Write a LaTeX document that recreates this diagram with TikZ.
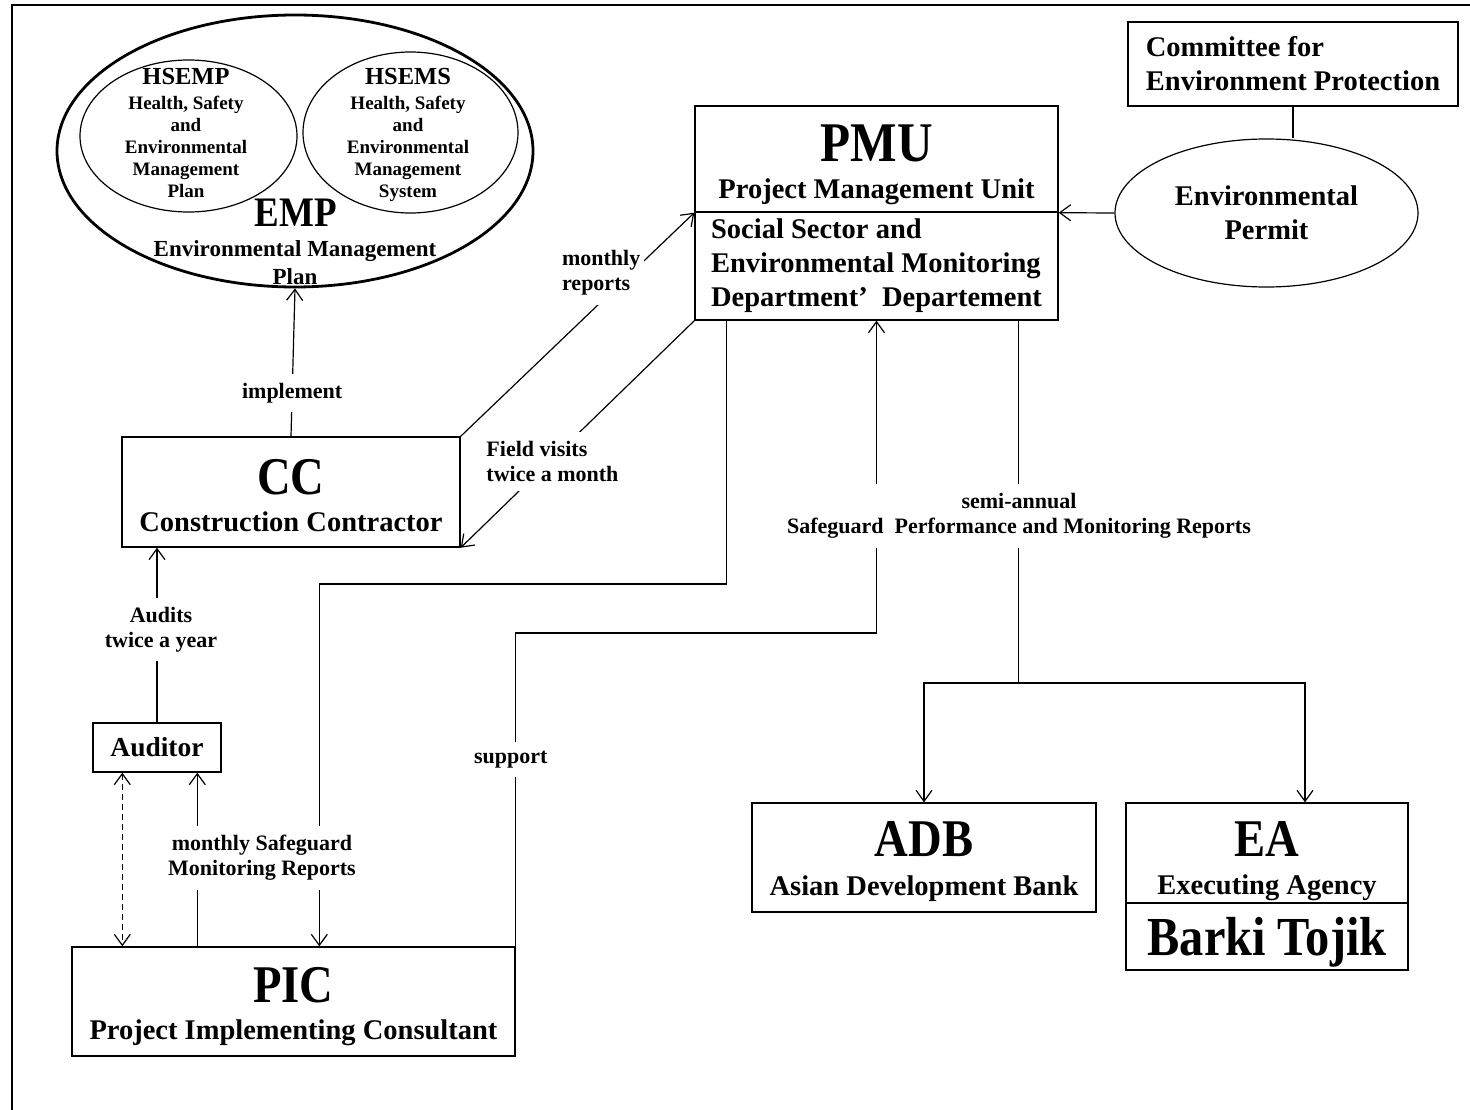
\documentclass[tikz,border=0pt]{standalone}
\usepackage{fontspec}
\setmainfont{Liberation Serif}
\newfontfamily\titlefam{Liberation Serif}[FakeStretch=0.88]
\usetikzlibrary{arrows.meta,shapes.geometric}

\newcommand{\fstitle}{\titlefam\fontsize{53}{56}\selectfont}
\newcommand{\fsbody}{\fontsize{28.5}{34}\selectfont}
\newcommand{\fslabel}{\fontsize{22}{25}\selectfont}
\newcommand{\fsinner}{\fontsize{19}{22}\selectfont}

\begin{document}
\begin{tikzpicture}[x=1pt, y=-1pt, >={Straight Barb[length=11pt,width=16pt]},
    box/.style={draw, line width=1.4pt, inner sep=0pt},
    oval/.style={draw, ellipse, line width=1.2pt, inner sep=0pt},
    title/.style={font=\fstitle\bfseries, inner sep=0pt, anchor=base},
    sub/.style={font=\bfseries\fsbody, inner sep=0pt, anchor=base},
    lbl/.style={font=\bfseries\fslabel, fill=white, align=center, inner xsep=4pt, inner ysep=9pt},
    inner/.style={font=\bfseries\fsinner, align=center, inner sep=0pt},
    conn/.style={line width=1.2pt}]
                        \useasboundingbox (0,0) rectangle (1470,1110);
                        \draw[line width=2.5pt] (12,1110) -- (12,5) -- (1470,5);

                        \node (emp) [oval, line width=2.8pt, minimum width=476pt, minimum height=272pt] at (295,151) {};
                        \node (hsemp) [oval, minimum width=217pt, minimum height=152pt] at (188.5,136) {};
                        \node (hsems) [oval, minimum width=215pt, minimum height=161pt] at (410.5,132.5) {};
                        \node (hsemptitle) [font=\bfseries\fontsize{24.5}{27}\selectfont, inner sep=0pt, anchor=base] at (186,85) {HSEMP};
                        \node (hsemptext) [inner] at (186,147) {Health, Safety\\and\\Environmental\\Management\\Plan};
                        \node (hsemstitle) [font=\bfseries\fontsize{24.5}{27}\selectfont, inner sep=0pt, anchor=base] at (408,85) {HSEMS};
                        \node (hsemstext) [inner] at (408,149) {Health, Safety\\and\\Environmental\\Management\\System};
                        \node (emptitle) [font=\titlefam\bfseries\fontsize{42}{45}\selectfont, inner sep=0pt, anchor=base] at (296,226) {EMP};
                        \node (empsub) [font=\bfseries\fontsize{23}{28}\selectfont, align=center, inner sep=0pt] at (295,263) {Environmental Management\\Plan};

                        \node (pmuhead) [box, minimum width=363pt, minimum height=106pt] at (876.5,159) {};
                        \node (pmudept) [box, minimum width=363pt, minimum height=108pt, below of=pmuhead, node distance=107pt, font=\bfseries\fsbody, align=left] {Social Sector and\\Environmental Monitoring\\Department'\ \ Departement};
                        \node (pmutitle) [title, font=\titlefam\bfseries\fontsize{56}{60}\selectfont] at ([yshift=-56pt]pmuhead.north) {PMU};
                        \node (pmusub) [sub] at ([yshift=-93pt]pmuhead.north) {Project Management Unit};

                        \node (committee) [box, minimum width=330pt, minimum height=84pt, font=\bfseries\fsbody, align=left] at (1293,64) {Committee for\\Environment Protection};
                        \node (permit) [oval, minimum width=303pt, minimum height=148pt, font=\bfseries\fsbody, align=center] at (1266.5,213) {Environmental\\Permit};

                        \node (cc) [box, minimum width=338pt, minimum height=110pt] at (291,492) {};
                        \node (cctitle) [title] at ([yshift=-58pt]cc.north) {CC};
                        \node (ccsub) [sub] at ([yshift=-95pt]cc.north) {Construction Contractor};

                        \node (auditor) [box, minimum width=128pt, minimum height=49pt, font=\bfseries\fontsize{27.5}{30}\selectfont] at (157,747.5) {Auditor};

                        \node (pic) [box, minimum width=443pt, minimum height=109pt] at (293.5,1001.5) {};
                        \node (pictitle) [title] at ([yshift=-56pt]pic.north) {PIC};
                        \node (picsub) [sub] at ([yshift=-93pt]pic.north) {Project Implementing Consultant};

                        \node (adb) [box, minimum width=344pt, minimum height=109pt] at (924,857.5) {};
                        \node (adbtitle) [title] at ([yshift=-54pt]adb.north) {ADB};
                        \node (adbsub) [sub] at ([yshift=-93pt]adb.north) {Asian Development Bank};

                        \node (eahead) [box, minimum width=282pt, minimum height=100pt] at (1267,853) {};
                        \node (eaname) [box, minimum width=282pt, minimum height=67pt, below of=eahead, node distance=83.5pt, text depth=0pt, font=\titlefam\bfseries\fontsize{55}{58}\selectfont] {Barki Tojik};
                        \node (eatitle) [title] at ([yshift=-54pt]eahead.north) {EA};
                        \node (easub) [sub] at ([yshift=-92pt]eahead.north) {Executing Agency};

                        \coordinate (pmuout) at ([xshift=32pt]pmudept.south west);
                        \coordinate (picin) at ([xshift=248pt]pic.north west);
                        \coordinate (suppbend) at (pmudept.south |- 0,633);
                        \coordinate (pmudown) at ([xshift=324pt]pmudept.south west);
                        \coordinate (split) at (pmudown |- 0,683);

                        \draw[->, conn] (cc.north) -- node[lbl, pos=0.29] {implement} (emp.south);
                        \draw[->, conn] (cc.north east) -- node[lbl, pos=0.73, xshift=-30pt, align=left] {monthly\\reports} (pmuhead.south west);
                        \draw[->, conn] (pmudept.south west) -- node[lbl, pos=0.62, xshift=3pt, align=left] {Field visits\\twice a month} (cc.south east);
                        \draw[->, conn] (permit.west) -- (pmuhead.south east);
                        \draw[conn] (committee.south) -- (committee.south |- permit.north);
                        \draw[->, conn] (auditor.north) -- node[lbl, pos=0.53, xshift=4pt] {Audits\\twice a year} (auditor.north |- cc.south);
                        \draw[<->, conn, dash pattern=on 6pt off 4pt] ([xshift=30pt]auditor.south west) -- ([xshift=30pt]auditor.south west |- pic.north);
                        \draw[->, conn] ([xshift=126pt]pic.north west) -- ([xshift=126pt]pic.north west |- auditor.south);
                        \draw[->, conn] (pmuout) |- (picin |- 0,584) -- (picin);
                        \draw[->, conn] (pic.north east) -- node[lbl, pos=0.595, xshift=-5pt] {support} (pic.north east |- suppbend) -- (suppbend) -- (pmudept.south);
                        \draw[conn] (pmudown) -- (split);
                        \draw[->, conn] (split) -| (adb.north);
                        \draw[->, conn] (split) -| ([xshift=38pt]eahead.north);
                        \node (semi) [lbl] at (1019,516) {semi-annual\\Safeguard\ \ Performance and Monitoring Reports};
                        \node (msmr) [lbl] at (262,858) {monthly Safeguard\\Monitoring Reports};
                    \end{tikzpicture}
\end{document}
